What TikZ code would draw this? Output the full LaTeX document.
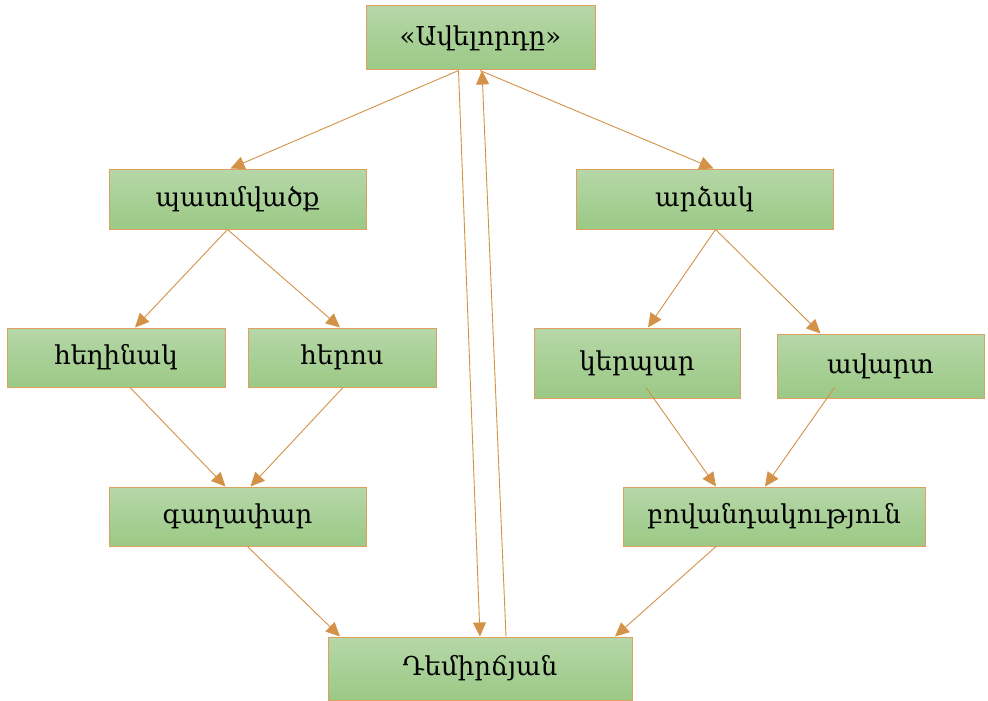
\documentclass[tikz,border=0pt]{standalone}
\usepackage{fontspec}
\setmainfont{DejaVu Serif}
\usetikzlibrary{arrows.meta,calc}
\definecolor{gtop}{HTML}{B6D7A8}
\definecolor{gbot}{HTML}{9BC985}
\definecolor{bord}{HTML}{DDA060}
\definecolor{arr}{HTML}{D39247}
\tikzset{
  box/.style={draw=bord, line width=1pt, top color=gtop, bottom color=gbot, inner sep=0pt, font=\fontsize{26}{30}\selectfont, text=black},
  conn/.style={draw=arr, line width=0.9pt, -{Triangle[length=14pt,width=13pt]}}
}
\begin{document}
\begin{tikzpicture}[x=1pt,y=-1pt]
\useasboundingbox (0,0) rectangle (988,701);
\node[box, minimum width=229pt, minimum height=64pt] (top) at (480.5,38) {«Ավելորդը»};
\node[box, minimum width=257pt, minimum height=60pt] (patm) at (237.5,199) {պատմվածք};
\node[box, minimum width=257pt, minimum height=60pt] (ardz) at (704.5,199) {արձակ};
\node[box, minimum width=218pt, minimum height=59pt] (hegh) at (116,357.5) {հեղինակ};
\node[box, minimum width=188pt, minimum height=59pt] (hero) at (342,357.5) {հերոս};
\node[box, minimum width=206pt, minimum height=70pt] (kerp) at (637,363) {\raisebox{5pt}{կերպար}};
\node[box, minimum width=207pt, minimum height=64pt] (avar) at (880.5,366) {ավարտ};
\node[box, minimum width=257pt, minimum height=59pt] (gagh) at (237.5,516.5) {գաղափար};
\node[box, minimum width=302pt, minimum height=59pt] (bov) at (774,516.5) {բովանդակություն};
\node[box, minimum width=304pt, minimum height=63pt] (dem) at (480,668.5) {Դեմիրճյան};

\draw[conn] ([xshift=-22pt]top.south) -- ([xshift=-7pt]patm.north);
\draw[conn] ([xshift=-0.5pt]top.south) -- ([xshift=9pt]ardz.north);
\draw[conn] ([xshift=-22pt]top.south) -- (dem.north);
\draw[conn] ([xshift=26pt]dem.north) -- ([xshift=1.5pt]top.south);

\draw[conn] ([xshift=-10pt]patm.south) -- ([xshift=19pt]hegh.north);
\draw[conn] ([xshift=-10pt]patm.south) -- ([xshift=-2pt]hero.north);
\draw[conn] ([xshift=11pt]ardz.south) -- ([xshift=11pt]kerp.north);
\draw[conn] ([xshift=11pt]ardz.south) -- ([xshift=-60pt]avar.north);

\draw[conn] ([xshift=14pt]hegh.south) -- ([xshift=-12pt]gagh.north);
\draw[conn] ([xshift=1pt]hero.south) -- ([xshift=13pt]gagh.north);
\draw[conn] ([xshift=9pt,yshift=11pt]kerp.south) -- ([xshift=-58pt]bov.north);
\draw[conn] ([xshift=-46pt,yshift=11pt]avar.south) -- ([xshift=-9pt]bov.north);

\draw[conn] ([xshift=10pt]gagh.south) -- ([xshift=-140pt]dem.north);
\draw[conn] ([xshift=-58pt]bov.south) -- ([xshift=135pt]dem.north);
\end{tikzpicture}
\end{document}
